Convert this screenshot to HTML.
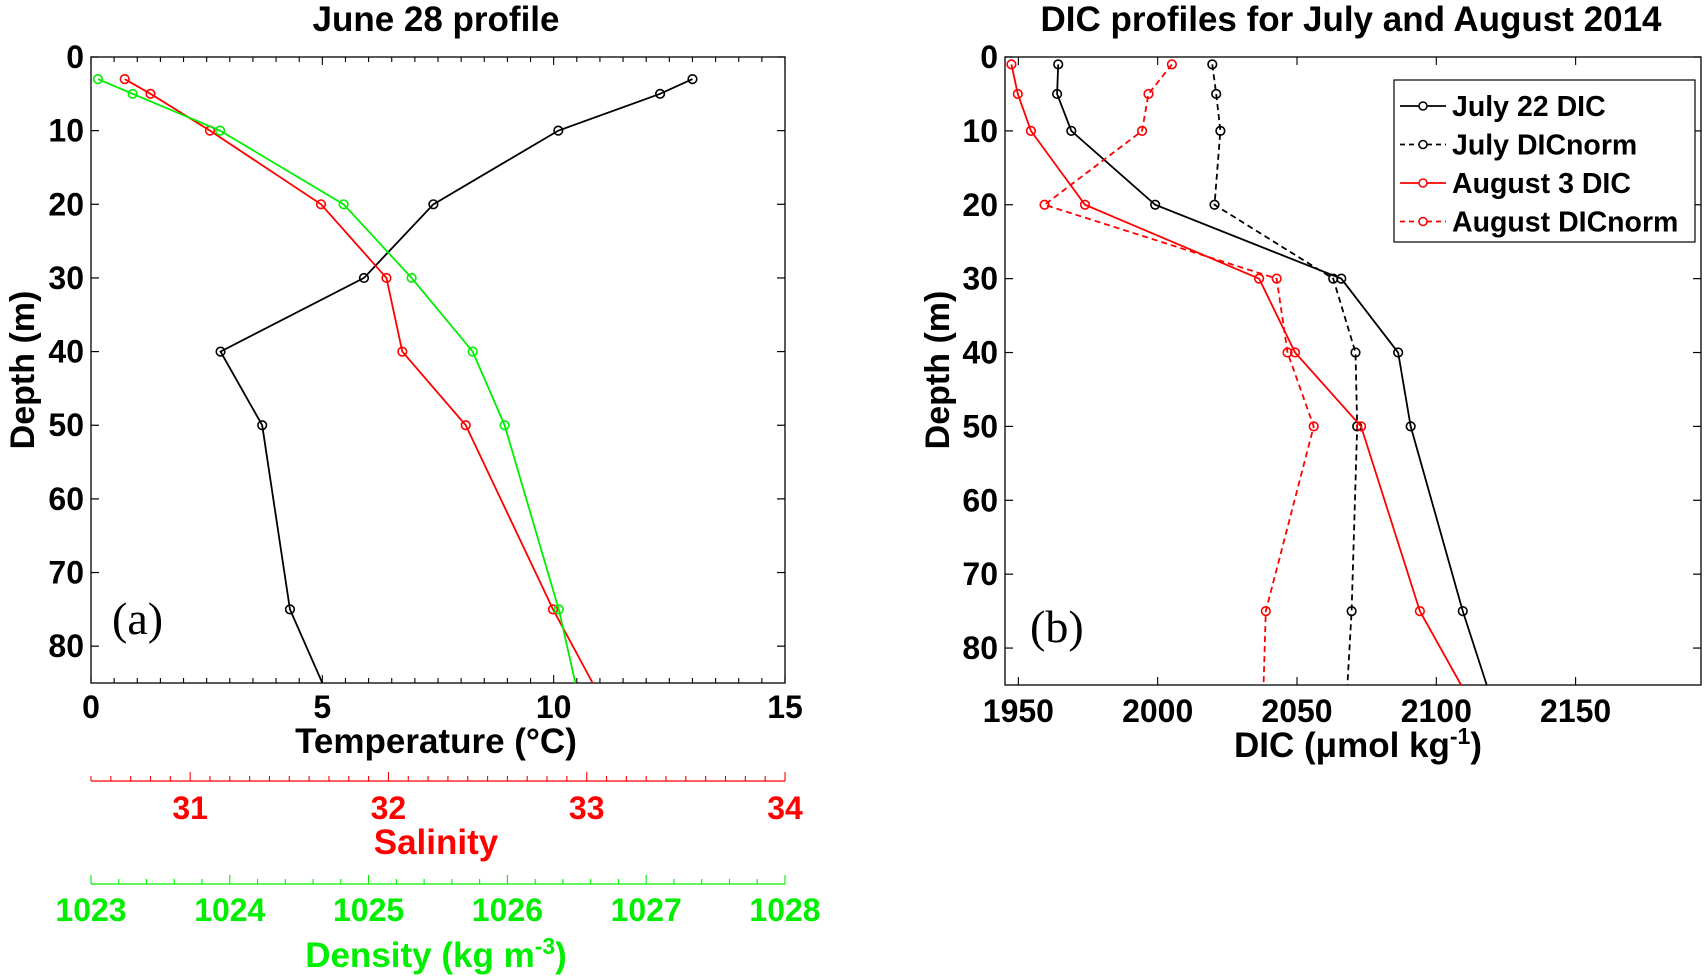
<!DOCTYPE html>
<html><head><meta charset="utf-8"><style>
html,body{margin:0;padding:0;background:#fff;}
svg{display:block;font-family:"Liberation Sans",Arial,sans-serif;}
</style></head><body>
<svg id="fig" width="1708" height="980" viewBox="0 0 1708 980" xmlns="http://www.w3.org/2000/svg"></svg>
<script>
// ---- Panel (a) data ----
const depthsA = [3,5,10,20,30,40,50,75,85];
const tempVals = [13.0,12.3,10.1,7.4,5.9,2.8,3.7,4.3,5.0];
const salVals = [30.67,30.80,31.10,31.66,31.99,32.07,32.39,32.83,33.03];
const densVals = [1023.05,1023.30,1023.93,1024.82,1025.31,1025.75,1025.98,1026.37,1026.49];
const tempTicks = [0,5,10,15];
const salTicks = [31,32,33,34];
const densTicks = [1023,1024,1025,1026,1027,1028];
const depthTicks = [0,10,20,30,40,50,60,70,80];
// ---- Panel (b) data ----
const depthsB = [1,5,10,20,30,40,50,75,85];
const julyDIC = [1964.3,1963.9,1969.0,1999.1,2065.9,2086.3,2090.8,2109.5,2118.1];
const julyNorm = [2019.6,2021.0,2022.5,2020.4,2063.0,2071.0,2071.6,2069.6,2068.1];
const augDIC = [1947.5,1949.8,1954.5,1973.9,2036.4,2049.3,2073.0,2094.1,2108.9];
const augNorm = [2005.1,1996.7,1994.4,1959.4,2042.7,2046.6,2056.0,2038.8,2038.0];
const dicTicks = [1950,2000,2050,2100,2150];
const legendLabels = ["July 22 DIC","July DICnorm","August 3 DIC","August DICnorm"];

const svg = document.getElementById('fig');
const NS = 'http://www.w3.org/2000/svg';
function mk(tag, attrs, parent){const e=document.createElementNS(NS,tag);for(const k in attrs)e.setAttribute(k,attrs[k]);(parent||svg).appendChild(e);return e;}
function txt(s, attrs, parent){const e=mk('text',attrs,parent);e.textContent=s;return e;}

const A = {x0:91,x1:785,y0:57,y1:683};
const B = {x0:1005,x1:1701,y0:57,y1:685};
const yA = d => A.y0 + d/85*(A.y1-A.y0);
const yB = d => B.y0 + d/85*(B.y1-B.y0);
const xT = t => A.x0 + t/15*(A.x1-A.x0);
const xS = s => A.x0 + (s-30.5)/3.5*(A.x1-A.x0);
const xD = d => A.x0 + (d-1023)/5*(A.x1-A.x0);
const xC = c => B.x0 + (c-1945.2)/249.8*(B.x1-B.x0);
const TF = 32;

function series(xs, ys, xf, yf, color, dash, name, lastNoMarker){
  const g = mk('g',{});
  
  
  const pts = xs.map((v,i)=>xf(v)+','+yf(ys[i])).join(' ');
  const pl = mk('polyline',{points:pts,fill:'none',stroke:color,'stroke-width':1.8,'stroke-dasharray':dash||'none'},g);
  
  
  xs.forEach((v,i)=>{
    if(lastNoMarker && i===xs.length-1) return;
    const c = mk('circle',{cx:xf(v),cy:yf(ys[i]),r:4.3,fill:'none',stroke:color,'stroke-width':1.6},g);
    
    
  });
}

function frame(P, yf, name){
  const r = mk('rect',{x:P.x0,y:P.y0,width:P.x1-P.x0,height:P.y1-P.y0,fill:'none',stroke:'#000','stroke-width':1.3});
  
  
  depthTicks.forEach(d=>{
    const y=yf(d);
    mk('line',{x1:P.x0,y1:y,x2:P.x0+8,y2:y,stroke:'#000','stroke-width':1.2});
    mk('line',{x1:P.x1,y1:y,x2:P.x1-8,y2:y,stroke:'#000','stroke-width':1.2});
    const t = txt(String(d),{x:P.x0-7,y:y+11,'text-anchor':'end','font-size':TF,'font-weight':'bold'});
    
    
  });
}

frame(A, yA, 'axes-a');
for(let t=0;t<=15;t+=0.5){
  const x=xT(t), big = (t%5===0);
  mk('line',{x1:x,y1:A.y1,x2:x,y2:A.y1-(big?8:5),stroke:'#000','stroke-width':1.1});
  mk('line',{x1:x,y1:A.y0,x2:x,y2:A.y0+(big?8:5),stroke:'#000','stroke-width':1.1});
}
tempTicks.forEach(t=>{
  const e=txt(String(t),{x:xT(t),y:718,'text-anchor':'middle','font-size':TF,'font-weight':'bold'});
  
  
});
series(tempVals, depthsA, xT, yA, '#000', null, 'temperature-series', true);
series(salVals, depthsA, xS, yA, '#f00', null, 'salinity-series', true);
series(densVals, depthsA, xD, yA, '#0e0', null, 'density-series', true);

mk('line',{x1:A.x0,y1:781,x2:A.x1,y2:781,stroke:'#f00','stroke-width':1.3});
for(let k=0;k<=35;k++){
  const s=30.5+k*0.1, x=xS(s), big=Math.abs(s-Math.round(s))<1e-6;
  mk('line',{x1:x,y1:781,x2:x,y2:781-(big?9:5),stroke:'#f00','stroke-width':1.1});
}
salTicks.forEach(s=>{
  const e=txt(String(s),{x:xS(s),y:819,'text-anchor':'middle','font-size':TF,'font-weight':'bold',fill:'#f00'});
  
  
});
mk('line',{x1:A.x0,y1:884,x2:A.x1,y2:884,stroke:'#0e0','stroke-width':1.3});
for(let k=0;k<=25;k++){
  const d=1023+k*0.2, x=xD(d), big=(k%5===0);
  mk('line',{x1:x,y1:884,x2:x,y2:884-(big?9:5),stroke:'#0e0','stroke-width':1.1});
}
densTicks.forEach(d=>{
  const e=txt(String(d),{x:xD(d),y:921,'text-anchor':'middle','font-size':TF,'font-weight':'bold',fill:'#0e0'});
  
  
});

frame(B, yB, 'axes-b');
for(let c=1950;c<=2190;c+=50){
  const x=xC(c);
  mk('line',{x1:x,y1:B.y1,x2:x,y2:B.y1-8,stroke:'#000','stroke-width':1.1});
  mk('line',{x1:x,y1:B.y0,x2:x,y2:B.y0+8,stroke:'#000','stroke-width':1.1});
}
dicTicks.forEach(c=>{
  const e=txt(String(c),{x:xC(c),y:722,'text-anchor':'middle','font-size':TF,'font-weight':'bold'});
  
  
});
series(julyDIC, depthsB, xC, yB, '#000', null, 'july-dic-series', true);
series(julyNorm, depthsB, xC, yB, '#000', '6,4', 'july-dicnorm-series', true);
series(augDIC, depthsB, xC, yB, '#f00', null, 'august-dic-series', true);
series(augNorm, depthsB, xC, yB, '#f00', '6,4', 'august-dicnorm-series', true);

const lg = mk('g',{});


mk('rect',{x:1394,y:80,width:301,height:162,fill:'#fff',stroke:'#000','stroke-width':1.2},lg);
const lc=['#000','#000','#f00','#f00'], ld=[null,'5,4',null,'5,4'];
legendLabels.forEach((s,i)=>{
  const y=106+i*38.5;
  const g=mk('g',{},lg);
  
  
  mk('line',{x1:1400,y1:y,x2:1446,y2:y,stroke:lc[i],'stroke-width':1.8,'stroke-dasharray':ld[i]||'none'},g);
  mk('circle',{cx:1423,cy:y,r:4,fill:'#fff',stroke:lc[i],'stroke-width':1.5},g);
  txt(s,{x:1452,y:y+10,'font-size':28.5,'font-weight':'bold'},g);
});
</script>
<div style="position:absolute;left:0;top:0;width:1708px;height:980px;pointer-events:none">
<svg width="1708" height="980" style="position:absolute;left:0;top:0" font-family="Liberation Sans, Arial, sans-serif" font-weight="bold">
<text x="436" y="31" text-anchor="middle" font-size="35">June 28 profile</text>
<text x="1351" y="31" text-anchor="middle" font-size="35">DIC profiles for July and August 2014</text>
<text transform="translate(34,370) rotate(-90)" text-anchor="middle" font-size="34">Depth (m)</text>
<text transform="translate(949,370) rotate(-90)" text-anchor="middle" font-size="34">Depth (m)</text>
<text x="436" y="753" text-anchor="middle" font-size="35">Temperature (°C)</text>
<text x="436" y="854" text-anchor="middle" font-size="35" fill="#f00">Salinity</text>
<text x="436" y="967" text-anchor="middle" font-size="35" fill="#0e0">Density (kg m<tspan dy="-13" font-size="23">-3</tspan><tspan dy="13">)</tspan></text>
<text x="1358" y="757" text-anchor="middle" font-size="35">DIC (μmol kg<tspan dy="-13" font-size="23">-1</tspan><tspan dy="13">)</tspan></text>
<text x="112" y="634" font-family="Liberation Serif, serif" font-weight="normal" font-size="46">(a)</text>
<text x="1030" y="642" font-family="Liberation Serif, serif" font-weight="normal" font-size="46">(b)</text>
</svg></div>
</body></html>
